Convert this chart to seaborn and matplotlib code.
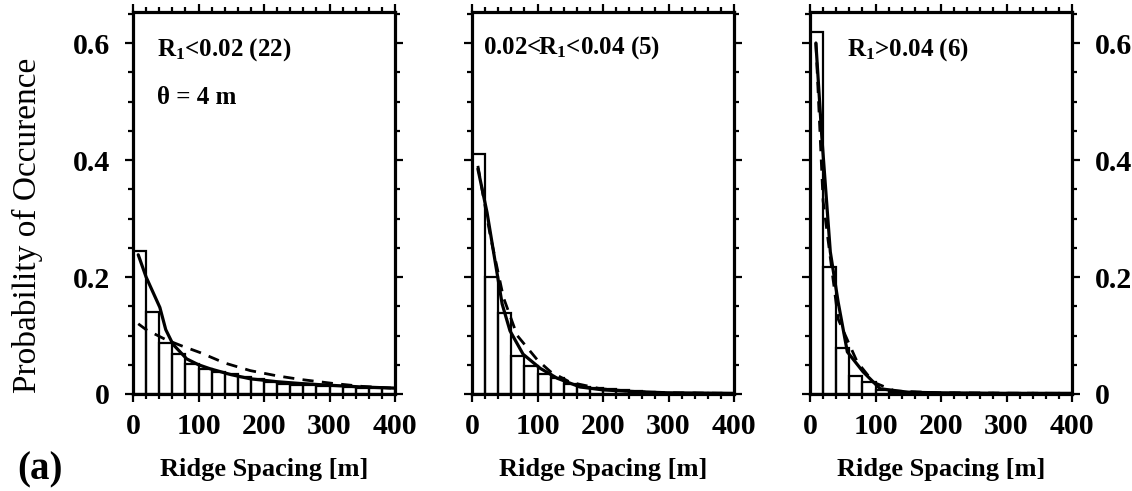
import numpy as np
import pandas as pd
import matplotlib
matplotlib.use("Agg")
import matplotlib.pyplot as plt
import seaborn as sns

# ---------------- data ----------------
bin_edges = list(range(0, 420, 20))
bin_centers = [10 + 20 * i for i in range(20)]

prob_low = [0.245, 0.141, 0.088, 0.068, 0.051, 0.043, 0.037, 0.034, 0.029, 0.025,
            0.020, 0.017, 0.016, 0.015, 0.014, 0.013, 0.012, 0.011, 0.010, 0.010]
prob_mid = [0.410, 0.200, 0.139, 0.065, 0.048, 0.034, 0.027, 0.017, 0.012, 0.011,
            0.008, 0.006, 0.005, 0.004, 0.002, 0.001, 0.001, 0.001, 0.001, 0.001]
prob_high = [0.619, 0.217, 0.078, 0.030, 0.020, 0.006, 0.004, 0.003, 0.002, 0.002,
             0.001, 0.001, 0.001, 0.001, 0.001, 0.001, 0.001, 0.001, 0.002, 0.001]

solid_low_x = [8, 20, 41, 50, 61, 82, 100, 118, 150, 179, 220, 255, 300, 350, 400]
solid_low_y = [0.238, 0.200, 0.148, 0.110, 0.085, 0.060, 0.050, 0.043, 0.033, 0.026,
               0.021, 0.018, 0.015, 0.012, 0.010]
dash_low_x = [8, 20, 50, 75, 102, 140, 179, 220, 255, 306, 350, 397]
dash_low_y = [0.120, 0.110, 0.093, 0.082, 0.071, 0.053, 0.040, 0.031, 0.025, 0.018,
              0.013, 0.010]

solid_mid_x = [9, 23, 46, 58, 78, 104, 130, 165, 200, 250, 300, 400]
solid_mid_y = [0.385, 0.310, 0.154, 0.108, 0.068, 0.044, 0.027, 0.012, 0.007, 0.004,
               0.002, 0.001]
dash_mid_x = [9, 28, 48, 69, 100, 120, 150, 196, 250, 300, 400]
dash_mid_y = [0.390, 0.270, 0.165, 0.100, 0.058, 0.038, 0.020, 0.009, 0.004, 0.002,
              0.001]

solid_high_x = [9, 18, 31, 43, 57, 81, 107, 150, 200, 300, 400]
solid_high_y = [0.600, 0.440, 0.243, 0.157, 0.072, 0.038, 0.009, 0.003, 0.002, 0.001,
                0.001]
dash_high_x = [9, 20, 43, 58, 72, 97, 130, 200, 400]
dash_high_y = [0.600, 0.330, 0.128, 0.090, 0.055, 0.020, 0.005, 0.002, 0.001]

panel_titles = [r"R$_1$<0.02 (22)", r"0.02<R$_1$<0.04 (5)", r"R$_1$>0.04 (6)"]
xtick_values = [0, 100, 200, 300, 400]
ytick_values = [0, 0.2, 0.4, 0.6]
ytick_labels = ["0", "0.2", "0.4", "0.6"]
x_label = "Ridge Spacing [m]"
y_label = "Probability of Occurence"
extra_note = "θ = 4 m"
panel_tag = "(a)"

# ---------------- style ----------------
sns.set_theme(style="ticks")
plt.rcParams["font.family"] = ["Liberation Serif", "DejaVu Serif"]
plt.rcParams["mathtext.fontset"] = "custom"
plt.rcParams["mathtext.rm"] = "Liberation Serif:bold"
plt.rcParams["mathtext.it"] = "Liberation Serif:bold"
plt.rcParams["mathtext.bf"] = "Liberation Serif:bold"
for key in ["text.color", "axes.labelcolor", "xtick.color", "ytick.color", "axes.edgecolor"]:
    plt.rcParams[key] = "black"

W, H = 1132, 491
fig = plt.figure(figsize=(W / 100, H / 100), dpi=100)

lefts = [133, 472, 810]
ax_w = 262
ax_top, ax_bot = 12, 394
TICK_FS = 21.5

panels = [
    (prob_low, solid_low_x, solid_low_y, dash_low_x, dash_low_y),
    (prob_mid, solid_mid_x, solid_mid_y, dash_mid_x, dash_mid_y),
    (prob_high, solid_high_x, solid_high_y, dash_high_x, dash_high_y),
]
title_pos = [(157, 50), (483, 48), (847, 50)]

for i, (probs, sx, sy, dx, dy) in enumerate(panels):
    ax = fig.add_axes([lefts[i] / W, (H - ax_bot) / H, ax_w / W, (ax_bot - ax_top) / H])
    sns.histplot(x=bin_centers, weights=probs, bins=bin_edges, fill=False,
                 color="black", linewidth=1.6, element="bars", ax=ax)
    sns.lineplot(x=sx, y=sy, color="black", linewidth=2.3, ax=ax)
    sns.lineplot(x=dx, y=dy, color="black", linewidth=2.0, ax=ax,
                 linestyle=(0, (4, 3)))
    ax.set_xlim(0, 400)
    ax.set_ylim(0, 0.653)
    ax.set_xticks(xtick_values)
    ax.set_xticks(bin_edges, minor=True)
    ax.set_yticks(ytick_values)
    ax.set_yticks(np.arange(0, 0.651, 0.05), minor=True)
    ax.set_xticklabels([str(v) for v in xtick_values], fontsize=TICK_FS, fontweight="bold")
    for sp in ax.spines.values():
        sp.set_visible(True)
        sp.set_linewidth(2.3)
        sp.set_color("black")
    ax.tick_params(which="both", direction="out", top=True, right=True,
                   bottom=True, left=True, width=1.6, color="black")
    ax.tick_params(which="major", length=5.5)
    ax.tick_params(which="minor", length=3.5)
    ax.tick_params(axis="x", which="major", pad=8)
    if i == 0:
        ax.set_yticklabels(ytick_labels, fontsize=TICK_FS, fontweight="bold")
        ax.tick_params(axis="y", labelleft=True, labelright=False, pad=11)
    elif i == 1:
        ax.tick_params(axis="y", labelleft=False, labelright=False)
    else:
        ax.set_yticklabels(ytick_labels, fontsize=TICK_FS, fontweight="bold")
        ax.tick_params(axis="y", labelleft=False, labelright=True, pad=11)
    ax.set_xlabel(x_label, fontsize=19, fontweight="bold", labelpad=13)
    ax.set_ylabel("")
    tx, ty = title_pos[i]
    fig.text(tx / W, 1 - ty / H, panel_titles[i], fontsize=18, fontweight="bold",
             ha="left", va="center")

fig.text(157 / W, 1 - 97 / H, extra_note, fontsize=18, fontweight="bold",
         ha="left", va="center")
fig.text(27 / W, 1 - 225 / H, y_label, fontsize=24, rotation=90,
         ha="center", va="center")
fig.text(40 / W, 1 - 470 / H, panel_tag, fontsize=28, fontweight="bold",
         ha="center", va="center")

fig.savefig("out.png", dpi=100)
